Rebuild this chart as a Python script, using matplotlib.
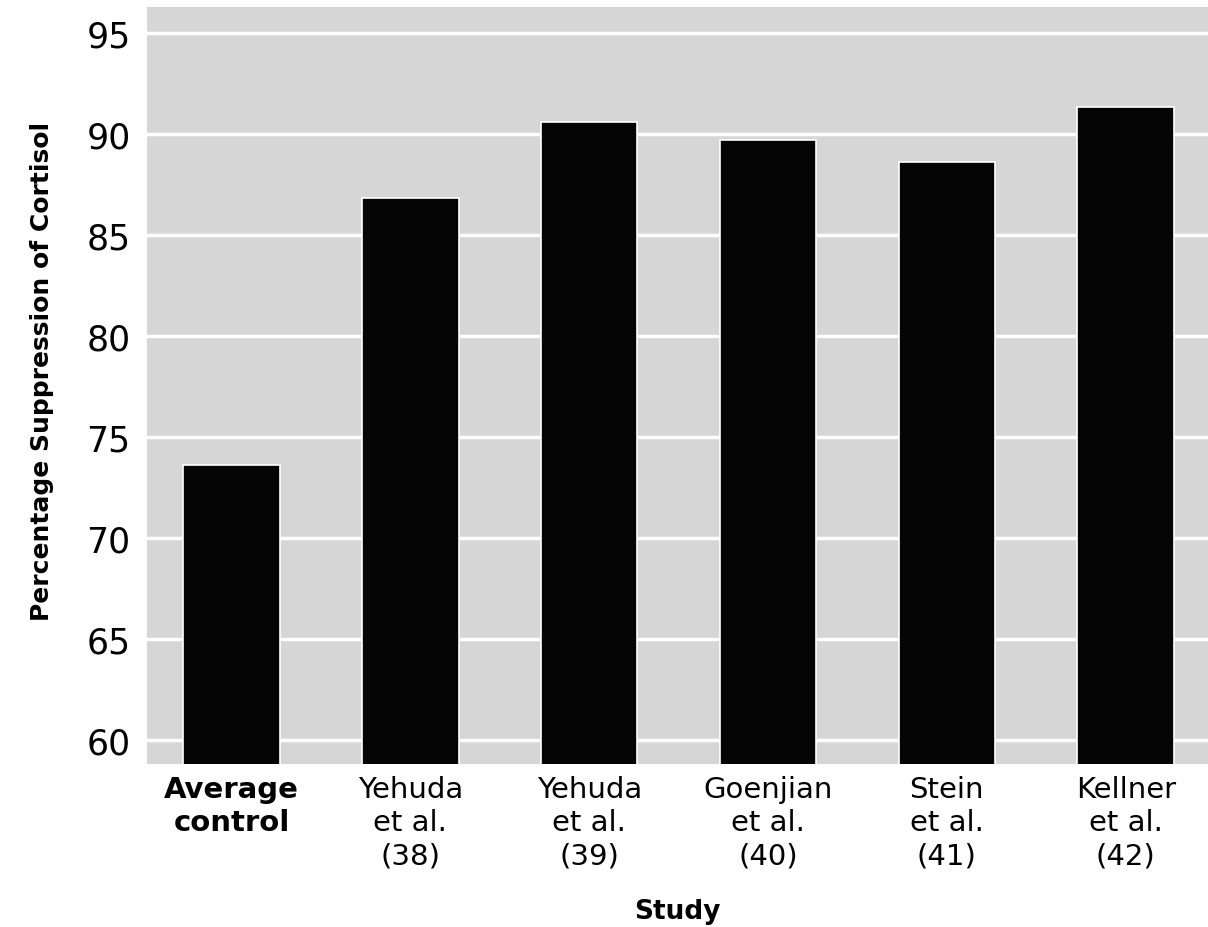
import numpy as np
import matplotlib.pyplot as plt

# данные
studies = ['Average\ncontrol', 'Yehuda\net al.\n(38)', 'Yehuda\net al.\n(39)',
           'Goenjian\net al.\n(40)', 'Stein\net al.\n(41)', 'Kellner\net al.\n(42)']
suppression = [73.6, 86.8, 90.6, 89.7, 88.6, 91.3]
yticks = [60, 65, 70, 75, 80, 85, 90, 95]

fig = plt.figure(figsize=(12.08, 9.28), dpi=100)
ax = fig.add_axes([0.122, 0.176, 0.878, 0.815])
ax.set_facecolor('#d6d6d6')

x = np.arange(len(studies))
ax.bar(x, suppression, width=0.54, bottom=0, color='#050505',
       edgecolor='white', linewidth=1.2, zorder=3)

ax.set_ylim(58.85, 96.25)
ax.set_xlim(-0.47, 5.46)
ax.set_yticks(yticks)
ax.set_yticklabels([str(v) for v in yticks], fontsize=25, family='DejaVu Sans')
ax.yaxis.grid(True, color='white', linewidth=2.5, zorder=1)
ax.set_axisbelow(True)

ax.set_xticks(x)
ax.set_xticklabels(studies, fontsize=21, family='DejaVu Sans', linespacing=1.25, va='top')
ax.get_xticklabels()[0].set_fontweight('bold')
ax.tick_params(axis='x', length=0, pad=8)
ax.tick_params(axis='y', length=0, pad=12)

for s in ax.spines.values():
    s.set_visible(False)

ax.set_xlabel('Study', fontsize=19, fontweight='bold', family='DejaVu Sans', labelpad=20)
ax.set_ylabel('Percentage Suppression of Cortisol', fontsize=18, fontweight='bold',
              family='DejaVu Sans', labelpad=18)
ax.yaxis.set_label_coords(-0.088, 0.52)

plt.savefig('out.png', dpi=100)
